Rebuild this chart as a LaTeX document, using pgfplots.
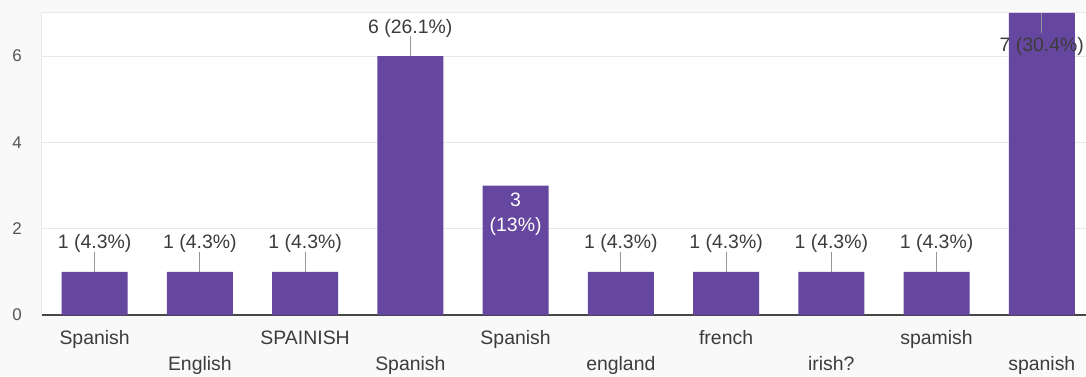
\documentclass[border=0pt]{standalone}
\usepackage{pgfplots}
\pgfplotsset{compat=1.18}
\usepackage{pgfplotstable}
\usepackage{fontspec}
\setmainfont{Liberation Sans}
\definecolor{barpurple}{RGB}{102,71,159}
\definecolor{txt}{RGB}{60,60,60}
\definecolor{ticktxt}{RGB}{85,85,85}
\definecolor{gridc}{RGB}{232,232,232}
\definecolor{bgc}{RGB}{249,249,249}
\definecolor{stemc}{RGB}{150,150,150}

\pgfplotstableread[col sep=comma, row sep=\\]{
x,y\\
0,1\\
1,1\\
2,1\\
3,6\\
4,3\\
5,1\\
6,1\\
7,1\\
8,1\\
9,7\\
}\bars

\pgfplotstableread[col sep=comma, row sep=\\]{
x,y,e,lab\\
0,1,0.46,1 (4.3\%)\\
1,1,0.46,1 (4.3\%)\\
2,1,0.46,1 (4.3\%)\\
3,6,0.46,6 (26.1\%)\\
5,1,0.46,1 (4.3\%)\\
6,1,0.46,1 (4.3\%)\\
7,1,0.46,1 (4.3\%)\\
8,1,0.46,1 (4.3\%)\\
}\abovelab

\pgfplotstableread[col sep=comma, row sep=\\]{
x,y,e\\
9,7,0.46\\
}\toplab

\pgfplotstableread[col sep=comma, row sep=\\]{
x,y\\
4,3\\
}\inlab

\begin{document}
\begin{tikzpicture}[x=1bp,y=1bp]
\path[use as bounding box, fill=bgc] (-42,-61) rectangle (1044,315);
\begin{axis}[
  at={(0,0)}, anchor=south west,
  scale only axis, width=1044bp, height=302bp,
  xmin=-0.5, xmax=9.42, ymin=0, ymax=7,
  xtick={0,...,9},
  xticklabels={\strut Spanish, \strut\\English, \strut SPAINISH, \strut\\Spanish, \strut Spanish, \strut\\england, \strut french, \strut\\irish?, \strut spamish, \strut\\spanish},
  xticklabel style={align=center, font=\fontsize{19.5}{26}\selectfont, text=txt, anchor=north, inner sep=0pt, yshift=-11bp},
  ytick={0,2,4,6},
  yticklabel style={anchor=center, xshift=-25bp, font=\fontsize{17}{20}\selectfont, text=ticktxt},
  major tick length=0pt,
  ymajorgrids, grid style={gridc, line width=1bp},
  axis line style={gridc, line width=1bp},
  extra y ticks={0}, extra y tick labels={},
  extra y tick style={grid style={draw=black!72, line width=1.5bp}},
  axis background/.style={fill=white},
  /pgf/number format/assume math mode=true,
  clip=false,
]
\addplot[ybar, bar width=66bp, fill=barpurple, draw=none] table[x=x, y=y] {\bars};

\addplot[draw=none, mark=none, forget plot,
  point meta=explicit symbolic,
  nodes near coords,
  every node near coord/.style={anchor=base, inner sep=0pt, yshift=23bp, text=txt, font=\fontsize{19.5}{24}\selectfont},
  error bars/.cd, y dir=plus, y explicit, error mark=none,
  error bar style={draw=stemc, line width=1bp, solid}]
  table[x=x, y=y, y error=e, meta=lab] {\abovelab};

\addplot[draw=none, mark=none, forget plot,
  nodes near coords={7 (30.4\%)},
  every node near coord/.style={anchor=base, inner sep=0pt, yshift=-39bp, text=txt, font=\fontsize{19.5}{24}\selectfont},
  error bars/.cd, y dir=minus, y explicit, error mark=none,
  error bar style={draw=stemc, line width=1bp, solid}]
  table[x=x, y=y, y error=e] {\toplab};

\addplot[draw=none, mark=none, forget plot,
  nodes near coords={3\\(13\%)},
  every node near coord/.style={anchor=north, align=center, inner sep=0pt, yshift=-7.5bp, text=white, font=\fontsize{19.5}{25}\selectfont}]
  table[x=x, y=y] {\inlab};
\end{axis}
\end{tikzpicture}
\end{document}
